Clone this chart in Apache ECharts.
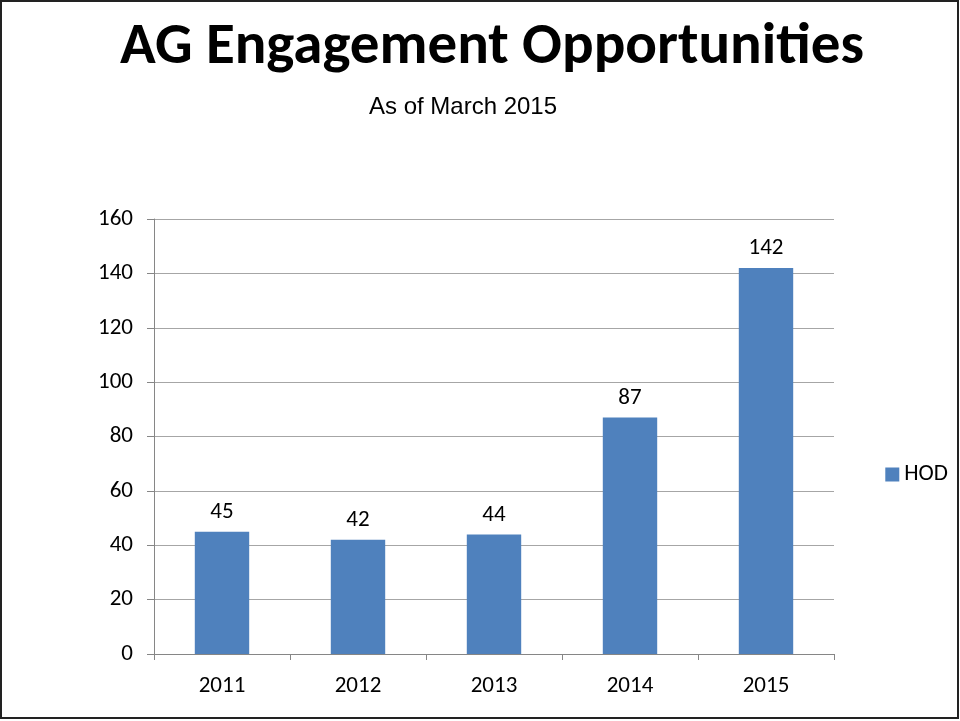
<!DOCTYPE html>
<html>
<head>
<meta charset="utf-8">
<script src="https://cdn.jsdelivr.net/npm/echarts@6/dist/echarts.min.js"></script>
<style>
  html, body { margin: 0; padding: 0; background: #fff; }
  #main { width: 960px; height: 721px; }
</style>
</head>
<body>
<div id="main"></div>
<script>
// categories and values
var years = ['2011', '2012', '2013', '2014', '2015'];
var hodValues = [45, 42, 44, 87, 142];
var seriesName = 'HOD';

var chart = echarts.init(document.getElementById('main'));
var labelFont = 'Carlito, Lato, "Open Sans", sans-serif';

chart.setOption({
  backgroundColor: '#fff',
  animation: false,
  title: [
    {
      text: 'AG Engagement Opportunities',
      left: 487, top: 14, textAlign: 'center',
      textStyle: { fontFamily: labelFont, fontWeight: 'bold', fontSize: 59, color: '#000' }
    },
    {
      text: 'As of March 2015',
      left: 458, top: 90, textAlign: 'center',
      textStyle: { fontFamily: '"Liberation Sans", Arial, sans-serif', fontWeight: 'normal', fontSize: 24, color: '#000' }
    }
  ],
  legend: {
    data: [seriesName],
    right: 7, top: 458,
    itemWidth: 14, itemHeight: 14, itemGap: 6,
    icon: 'rect',
    textStyle: { fontFamily: labelFont, fontSize: 23, color: '#000' }
  },
  grid: { left: 154, top: 219, width: 680, height: 435 },
  xAxis: {
    type: 'category',
    data: years,
    axisLine: { lineStyle: { color: '#868686' } },
    axisTick: { show: true, length: 6, lineStyle: { color: '#868686' } },
    axisLabel: { fontFamily: labelFont, fontSize: 23, color: '#000', margin: 21 }
  },
  yAxis: {
    type: 'value',
    min: 0, max: 160, interval: 20,
    axisLine: { show: true, lineStyle: { color: '#868686' } },
    axisTick: { show: true, length: 7, lineStyle: { color: '#868686' } },
    splitLine: { lineStyle: { color: '#a6a6a6' } },
    axisLabel: { fontFamily: labelFont, fontSize: 23, color: '#000', margin: 21 }
  },
  series: [{
    name: seriesName,
    type: 'bar',
    data: hodValues,
    barWidth: '40%',
    itemStyle: { color: '#4F81BD' },
    label: {
      show: true, position: 'top', distance: 8,
      fontFamily: labelFont, fontSize: 23, color: '#000'
    }
  }],
  graphic: [{
    type: 'rect',
    shape: { x: 1, y: 1, width: 957, height: 717 },
    style: { fill: 'none', stroke: '#222', lineWidth: 2 },
    silent: true
  }]
});
</script>
</body>
</html>
